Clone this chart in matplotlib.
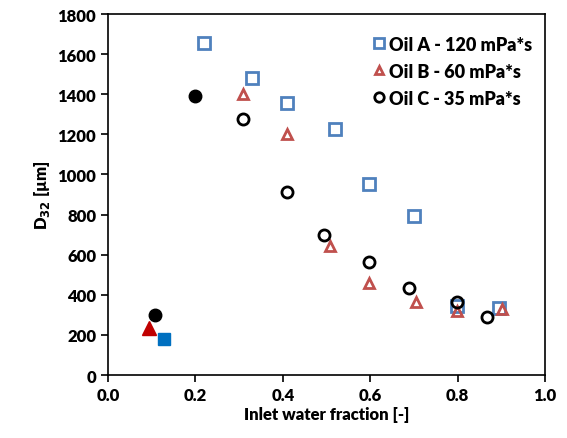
import matplotlib
matplotlib.use("Agg")
import matplotlib.pyplot as plt

# inlet water fraction / D32 values
oil_a_x = [0.219, 0.329, 0.409, 0.519, 0.597, 0.701, 0.798, 0.896]
oil_a_y = [1653, 1481, 1354, 1225, 952, 791, 342, 332]
oil_a_fill_x = [0.129]
oil_a_fill_y = [179]

oil_b_x = [0.309, 0.409, 0.509, 0.598, 0.704, 0.799, 0.901]
oil_b_y = [1400, 1200, 645, 460, 365, 318, 330]
oil_b_fill_x = [0.093]
oil_b_fill_y = [235]

oil_c_x = [0.308, 0.409, 0.495, 0.598, 0.689, 0.798, 0.868]
oil_c_y = [1278, 911, 699, 563, 435, 362, 291]
oil_c_fill_x = [0.199, 0.108]
oil_c_fill_y = [1392, 301]

labels = ["Oil A - 120 mPa*s", "Oil B - 60 mPa*s", "Oil C - 35 mPa*s"]

plt.rcParams['font.family'] = ['Lato', 'DejaVu Sans']
plt.rcParams['font.weight'] = 'heavy'

fig = plt.figure(figsize=(5.67, 4.39), dpi=100)
ax = fig.add_axes([0.1905, 0.1435, 0.7705, 0.8223])

ax.plot(oil_a_x, oil_a_y, 's', ms=8, mfc='none', mec='#4F81BD', mew=2, label=labels[0])
ax.plot(oil_b_x, oil_b_y, '^', ms=7.5, mfc='none', mec='#C0504D', mew=2, label=labels[1])
ax.plot(oil_c_x, oil_c_y, 'o', ms=8, mfc='none', mec='black', mew=2, label=labels[2])

ax.plot(oil_a_fill_x, oil_a_fill_y, 's', ms=9, color='#0070C0')
ax.plot(oil_b_fill_x, oil_b_fill_y, '^', ms=10, color='#C00000')
ax.plot(oil_c_fill_x, oil_c_fill_y, 'o', ms=9, color='black')

ax.set_xlim(0, 1.0)
ax.set_ylim(0, 1800)
ax.set_xticks([0.0, 0.2, 0.4, 0.6, 0.8, 1.0])
ax.set_yticks(range(0, 1801, 200))
ax.set_xticklabels(['0.0', '0.2', '0.4', '0.6', '0.8', '1.0'])
ax.tick_params(direction='out', length=5, width=1.2, labelsize=12)
for s in ax.spines.values():
    s.set_linewidth(1.2)

ax.set_xlabel('Inlet water fraction [-]', fontsize=12, fontweight='heavy', labelpad=2)
ax.set_ylabel('D$_{\\mathbf{32}}$ [µm]', fontsize=12, fontweight='heavy', labelpad=4)

leg = ax.legend(loc='upper right', bbox_to_anchor=(1.0, 0.975), frameon=False,
                fontsize=13, handletextpad=0.05, handlelength=1.0,
                labelspacing=0.55, borderaxespad=0.3, markerscale=0.85)

fig.savefig('out.png', dpi=100)
